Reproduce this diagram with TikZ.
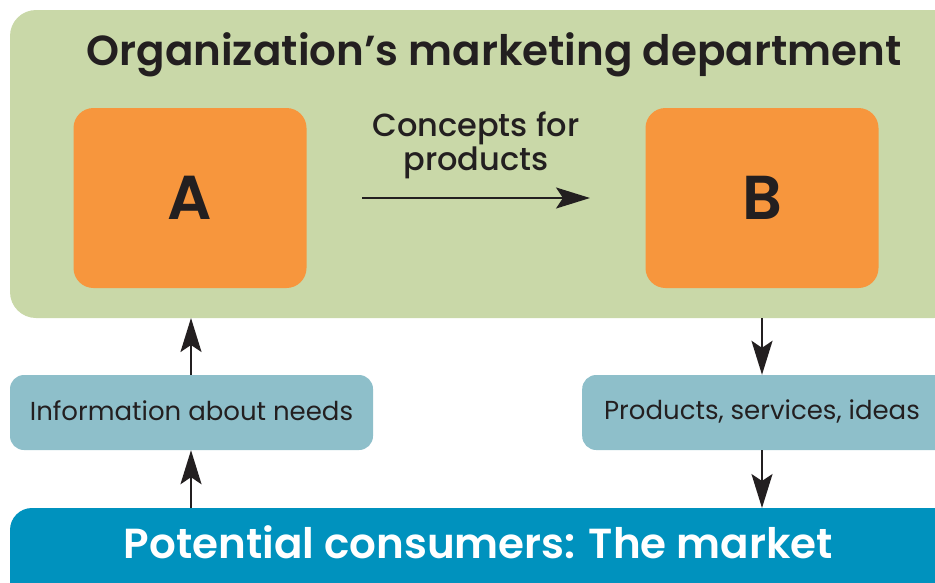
\documentclass[tikz,border=0pt]{standalone}
\usepackage{fontspec}
\setmainfont{Poppins}
\newfontfamily\semib{Poppins SemiBold}
\newfontfamily\medf{Poppins Medium}
\usetikzlibrary{arrows.meta}
\definecolor{greenbg}{HTML}{C9D8A8}
\definecolor{orangebx}{HTML}{F7963D}
\definecolor{tealbx}{HTML}{8EBFCA}
\definecolor{bluebar}{HTML}{0092BE}
\definecolor{inkc}{HTML}{231F20}
\begin{document}
\begin{tikzpicture}[x=1pt,y=-1pt,
  panel/.style={fill=greenbg, rounded corners=26pt, draw=none},
  obox/.style={fill=orangebx, rounded corners=20pt, draw=none, minimum width=233pt, minimum height=180pt, font=\fontsize{62}{64}\selectfont\semib, text=inkc},
  tbox/.style={fill=tealbx, rounded corners=14pt, draw=none, minimum height=75pt, text=inkc},
  lbl/.style={font=\fontsize{26}{30}\selectfont, text=inkc},
  flow/.style={-{Stealth[length=34pt,width=21pt,inset=7pt]}, line width=2pt, draw=inkc}
]
\useasboundingbox (0,0) rectangle (935,582);
\fill[panel] (10,10) rectangle (960,318);
\node[font=\fontsize{42}{44}\selectfont\semib, text=inkc] (title) at (494,55) {Organization’s marketing department};
\node[obox] (A) at (190,198) {A};
\node[obox] (B) at (762,198) {B};
\coordinate (arrS) at (362,198);
\coordinate (arrE) at (590,198);
\draw[flow] (arrS) -- (arrE);
\node[font=\fontsize{32}{34}\selectfont\medf, text=inkc, align=center] (concepts) at (476,145) {Concepts for\\products};
\node[tbox, minimum width=363pt] (info) at (191.5,412.5) {};
\node[lbl] (infotxt) at (191.5,411) {Information about needs};
\node[tbox, minimum width=380pt, anchor=west] (prod) at (582,412.5) {};
\node[lbl] (prodtxt) at (762,411) {Products, services, ideas};
\fill[bluebar, rounded corners=22pt] (10,508) rectangle (960,620);
\node[font=\fontsize{42}{44}\selectfont\semib, text=white] (market) at (478.5,542) {Potential consumers: The market};
\draw[flow] (191,508) -- (info.south -| 191,0);
\draw[flow] (info.north -| 191,0) -- (191,318);
\draw[flow] (762,318) -- (prod.north -| 762,0);
\draw[flow] (prod.south -| 762,0) -- (762,508);
\end{tikzpicture}
\end{document}
